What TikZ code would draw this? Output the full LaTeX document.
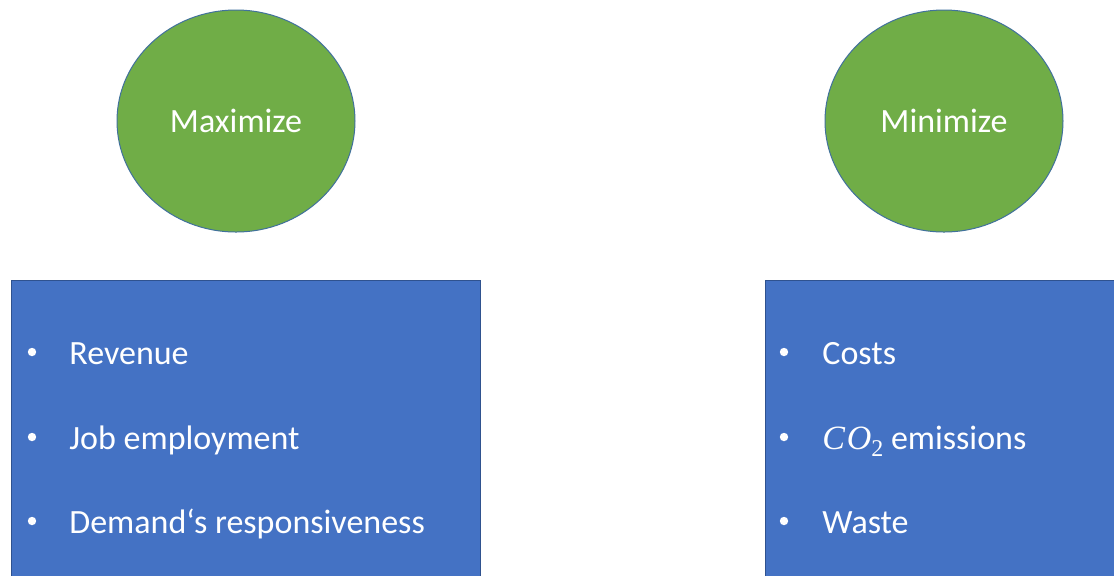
\documentclass[tikz,border=0pt]{standalone}
\usepackage{fontspec}
\setmainfont{Carlito}
\newfontfamily\symbolserif{Liberation Serif}
\usetikzlibrary{shapes.geometric}
\definecolor{goalgreen}{HTML}{70AD47}
\definecolor{goalline}{HTML}{41719C}
\definecolor{listblue}{HTML}{4472C4}
\definecolor{listline}{HTML}{2F528F}
\begin{document}
\begin{tikzpicture}[x=0.5pt,y=-0.5pt,
  goal/.style={ellipse,draw=goalline,line width=0.5pt,fill=goalgreen,
    minimum width=119pt,minimum height=111pt,inner sep=0pt,
    text=white,font=\fontsize{17}{20}\selectfont},
  listbox/.style={rectangle,draw=listline,line width=0.5pt,fill=listblue,
    inner sep=0pt,anchor=north west},
  bulletmark/.style={circle,fill=white,minimum size=4.2pt,inner sep=0pt},
  item/.style={anchor=base west,text=white,font=\fontsize{17}{20}\selectfont,inner sep=0pt}]
  \clip (0,0) rectangle (1114,575);
  \fill[white] (0,0) rectangle (1114,575);

  % objective headings
  \node[goal] (max) at (236,121) {Maximize};
  \node[goal] (min) at (944,121) {Minimize};

  % list panels, running off the lower edge
  \node[listbox,minimum width=234.5pt,minimum height=200pt] (lbox) at (11,280) {};
  \node[listbox,minimum width=200pt,minimum height=200pt] (rbox) at (765,280) {};

  % items to maximize
  \node[bulletmark] (lb1) at (32,352) {};
  \node[item] (l1) at (69,364) {Revenue};
  \node[bulletmark] (lb2) at (32,437) {};
  \node[item] (l2) at (69,449) {Job employment};
  \node[bulletmark] (lb3) at (32,521) {};
  \node[item] (l3) at (69,533) {Demand‘s responsiveness};

  % items to minimize
  \node[bulletmark] (rb1) at (784,352) {};
  \node[item] (r1) at (822,364) {Costs};
  \node[bulletmark] (rb2) at (784,437) {};
  \node[item] (r2) at (822,449) {{\symbolserif\itshape C\kern0.05em O}\raisebox{-0.22em}{\symbolserif\fontsize{12}{14}\selectfont 2} emissions};
  \node[bulletmark] (rb3) at (784,521) {};
  \node[item] (r3) at (822,533) {Waste};
\end{tikzpicture}
\end{document}
